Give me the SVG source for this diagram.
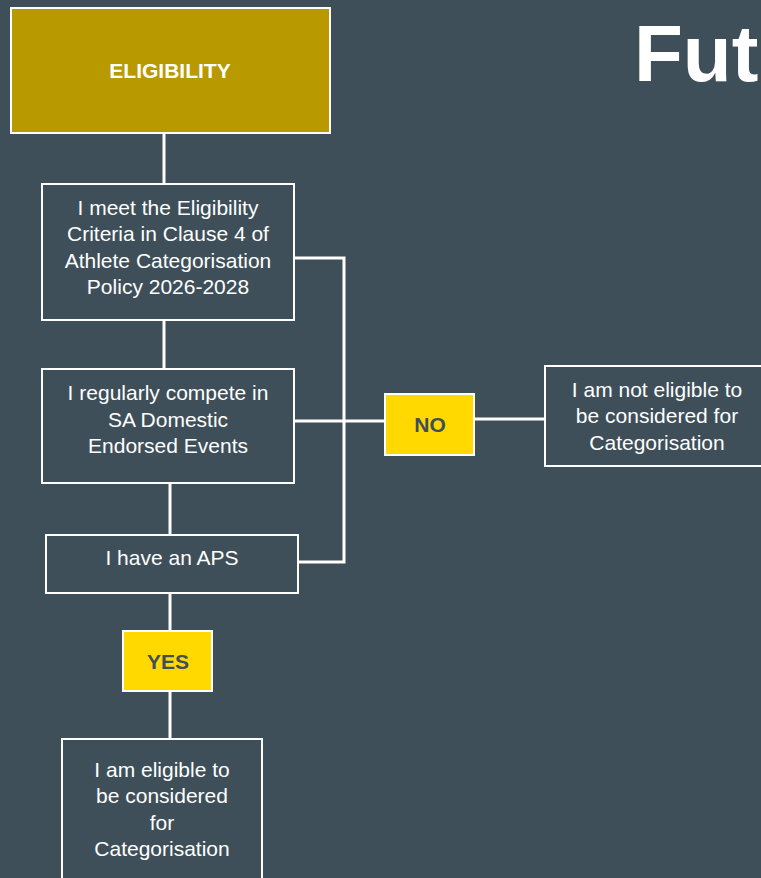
<svg xmlns="http://www.w3.org/2000/svg" width="761" height="878" viewBox="0 0 761 878">
<style>
.box{fill:none;stroke:#ffffff;stroke-width:2}
.t{font-family:"Liberation Sans",Arial,sans-serif;font-size:21px;fill:#ffffff;text-anchor:middle}
.b{font-family:"Liberation Sans",Arial,sans-serif;font-size:21px;font-weight:bold;text-anchor:middle}
.c{fill:none;stroke:#ffffff;stroke-width:3}
</style>
<rect x="0" y="0" width="761" height="878" fill="#3E4F59"/>
<text x="634" y="81" font-family="'Liberation Sans',Arial,sans-serif" font-size="80" font-weight="bold" fill="#ffffff">Fut</text>
<g id="connectors">
<line class="c" x1="164" y1="133" x2="164" y2="184"/>
<line class="c" x1="164" y1="320" x2="164" y2="369"/>
<line class="c" x1="170" y1="483" x2="170" y2="535"/>
<line class="c" x1="170" y1="593" x2="170" y2="631"/>
<line class="c" x1="170" y1="691" x2="170" y2="739"/>
<polyline class="c" points="294,258 344,258 344,562 298,562"/>
<line class="c" x1="294" y1="421" x2="385" y2="421"/>
<line class="c" x1="474" y1="419" x2="545" y2="419"/>
</g>
<g id="eligibility">
<rect x="11" y="8" width="319" height="125" fill="#B89A00" stroke="#ffffff" stroke-width="2"/>
<text class="b" x="170" y="78" fill="#ffffff">ELIGIBILITY</text>
</g>
<g id="criteria">
<rect class="box" x="42" y="184" width="252" height="136"/>
<text class="t" x="168" y="215">I meet the Eligibility</text>
<text class="t" x="168" y="241">Criteria in Clause 4 of</text>
<text class="t" x="168" y="268">Athlete Categorisation</text>
<text class="t" x="168" y="294">Policy 2026-2028</text>
</g>
<g id="compete">
<rect class="box" x="42" y="369" width="252" height="114"/>
<text class="t" x="168" y="400">I regularly compete in</text>
<text class="t" x="168" y="427">SA Domestic</text>
<text class="t" x="168" y="453">Endorsed Events</text>
</g>
<g id="aps">
<rect class="box" x="46" y="535" width="252" height="58"/>
<text class="t" x="172" y="565">I have an APS</text>
</g>
<g id="yes">
<rect x="123" y="631" width="89" height="60" fill="#FFD900" stroke="#ffffff" stroke-width="2"/>
<text class="b" x="168" y="669" fill="#3E4F59">YES</text>
</g>
<g id="no">
<rect x="385" y="394" width="89" height="61" fill="#FFD900" stroke="#ffffff" stroke-width="2"/>
<text class="b" x="430" y="432" fill="#3E4F59">NO</text>
</g>
<g id="not-eligible">
<rect class="box" x="545" y="366" width="240" height="100"/>
<text class="t" x="657" y="397">I am not eligible to</text>
<text class="t" x="657" y="423">be considered for</text>
<text class="t" x="657" y="450">Categorisation</text>
</g>
<g id="eligible">
<rect class="box" x="62" y="739" width="200" height="160"/>
<text class="t" x="162" y="777">I am eligible to</text>
<text class="t" x="162" y="803">be considered</text>
<text class="t" x="162" y="830">for</text>
<text class="t" x="162" y="856">Categorisation</text>
</g>
</svg>
